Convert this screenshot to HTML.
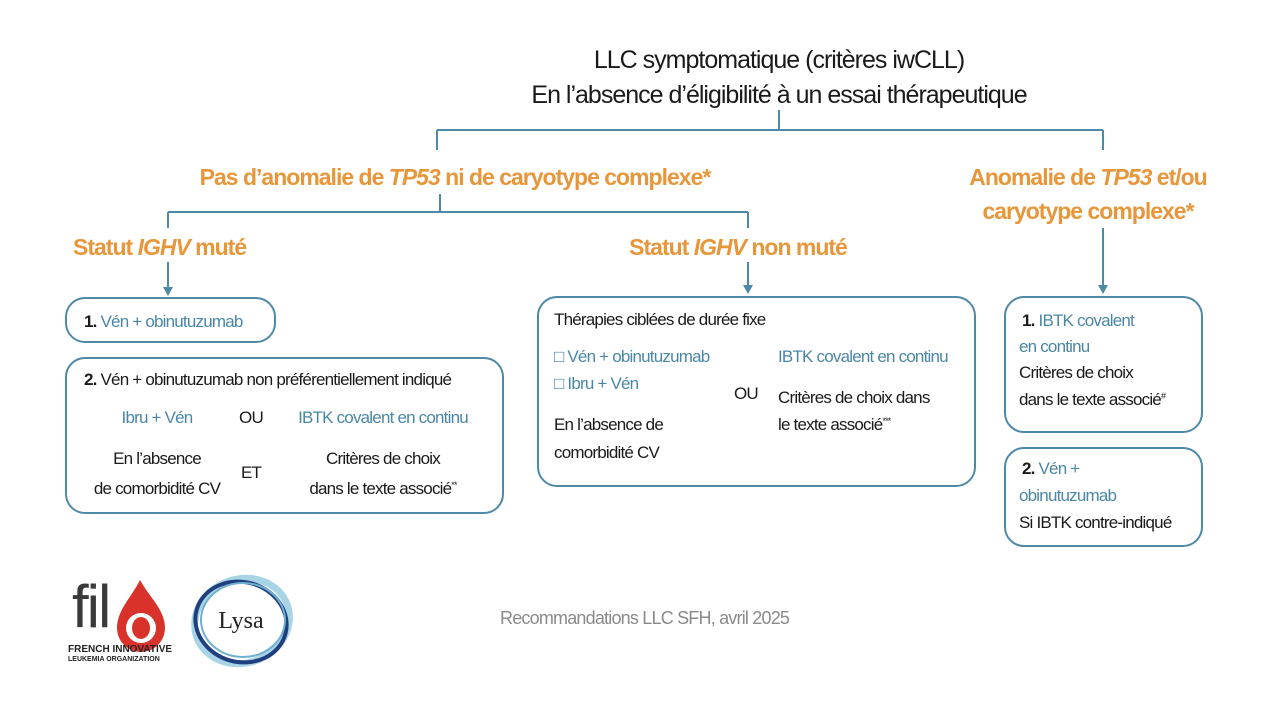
<!DOCTYPE html>
<html><head><meta charset="utf-8"><style>
body{margin:0;width:1280px;height:708px;background:#fff;position:relative;overflow:hidden;font-family:"Liberation Sans",sans-serif;}
.t{position:absolute;white-space:nowrap;font-size:17px;line-height:20px;letter-spacing:-0.8px;color:#1a1a1a;}
.c{transform:translateX(-50%);}
.b{color:#4a87a6;}
.o{color:#e8963a;font-weight:bold;font-size:23px;line-height:28px;letter-spacing:-1.0px;}
.s{position:relative;top:-6px;font-size:9px;line-height:0;}
.box{position:absolute;border:2.5px solid #4e89a8;border-radius:20px;box-sizing:border-box;}
</style></head><body>
<svg width="1280" height="708" style="position:absolute;left:0;top:0">
<g stroke="#4e89a8" stroke-width="2" fill="none">
<path d="M779 110V130M437 130H1103M437 130V150M1103 130V150"/>
<path d="M440 194V212M168 212H748M168 212V228M748 212V228"/>
<path d="M168 262V290M748 262V288M1103 228V288"/>
</g>
<g fill="#4e89a8">
<path d="M163 287L173 287L168 296Z"/><path d="M743 285L753 285L748 294Z"/><path d="M1098 285L1108 285L1103 294Z"/>
</g>
<ellipse cx="242" cy="621" rx="48" ry="42" fill="none" stroke="#a8d4e6" stroke-width="7" transform="rotate(-20 242 621)"/>
<ellipse cx="241" cy="622" rx="46" ry="40" fill="none" stroke="#1f3f7f" stroke-width="4" transform="rotate(15 241 622)"/>
<ellipse cx="243" cy="620" rx="42" ry="37" fill="none" stroke="#6fb0cf" stroke-width="2"/>
<path d="M140 580 C150 598 165 610 165 628 A24 24 0 0 1 117 628 C117 610 131 598 140 580Z" fill="#d8322b"/>
<circle cx="141" cy="628" r="15" fill="#fff"/>
<ellipse cx="141" cy="628" rx="9" ry="11" fill="#d8322b"/>
</svg>
<div class="t c" style="left:779px;top:45px;font-size:25px;line-height:30px;letter-spacing:-1px">LLC symptomatique (critères iwCLL)</div>
<div class="t c" style="left:779px;top:80px;font-size:25px;line-height:30px;letter-spacing:-1px">En l’absence d’éligibilité à un essai thérapeutique</div>
<div class="t o c" style="left:455px;top:163px">Pas d’anomalie de <i>TP53</i> ni de caryotype complexe*</div>
<div class="t o c" style="left:1088px;top:163px">Anomalie de <i>TP53</i> et/ou</div>
<div class="t o c" style="left:1088px;top:197px">caryotype complexe*</div>
<div class="t o" style="left:73px;top:233px">Statut <i>IGHV</i> muté</div>
<div class="t o c" style="left:738px;top:233px">Statut <i>IGHV</i> non muté</div>

<div class="box" style="left:65px;top:297px;width:211px;height:46px"></div>
<div class="box" style="left:65px;top:357px;width:439px;height:157px"></div>
<div class="box" style="left:537px;top:296px;width:439px;height:191px"></div>
<div class="box" style="left:1004px;top:296px;width:199px;height:137px"></div>
<div class="box" style="left:1004px;top:447px;width:199px;height:100px"></div>

<div class="t" style="left:84px;top:312px"><b>1.</b> <span class="b">Vén + obinutuzumab</span></div>
<div class="t" style="left:84px;top:370px"><b>2.</b> Vén + obinutuzumab non préférentiellement indiqué</div>
<div class="t b c" style="left:157px;top:408px">Ibru + Vén</div>
<div class="t c" style="left:251px;top:408px">OU</div>
<div class="t b c" style="left:383px;top:408px">IBTK covalent en continu</div>
<div class="t c" style="left:157px;top:449px">En l’absence</div>
<div class="t c" style="left:157px;top:479px">de comorbidité CV</div>
<div class="t c" style="left:251px;top:463px">ET</div>
<div class="t c" style="left:383px;top:449px">Critères de choix</div>
<div class="t c" style="left:383px;top:479px">dans le texte associé<span class="s">**</span></div>

<div class="t" style="left:554px;top:310px">Thérapies ciblées de durée fixe</div>
<div class="t b" style="left:554px;top:347px">□ Vén + obinutuzumab</div>
<div class="t b" style="left:554px;top:374px">□ Ibru + Vén</div>
<div class="t" style="left:734px;top:384px">OU</div>
<div class="t" style="left:554px;top:415px">En l’absence de</div>
<div class="t" style="left:554px;top:443px">comorbidité CV</div>
<div class="t b" style="left:778px;top:347px">IBTK covalent en continu</div>
<div class="t" style="left:778px;top:388px">Critères de choix dans</div>
<div class="t" style="left:778px;top:415px">le texte associé<span class="s">***</span></div>

<div class="t" style="left:1022px;top:311px"><b>1.</b> <span class="b">IBTK covalent</span></div>
<div class="t b" style="left:1019px;top:337px">en continu</div>
<div class="t" style="left:1019px;top:363px">Critères de choix</div>
<div class="t" style="left:1019px;top:390px">dans le texte associé<span class="s">#</span></div>
<div class="t" style="left:1022px;top:459px"><b>2.</b> <span class="b">Vén +</span></div>
<div class="t b" style="left:1019px;top:486px">obinutuzumab</div>
<div class="t" style="left:1019px;top:513px">Si IBTK contre-indiqué</div>

<div class="t" style="left:500px;top:607px;font-size:18px;line-height:22px;color:#8a8a8a">Recommandations LLC SFH, avril 2025</div>

<div class="t" style="left:72px;top:577px;font-size:60px;line-height:60px;letter-spacing:-2px;color:#3a3a3a">fil</div>
<div class="t" style="left:68px;top:644px;font-size:10px;line-height:11px;letter-spacing:0;font-weight:bold;color:#222">FRENCH INNOVATIVE</div>
<div class="t" style="left:68px;top:656px;font-size:7px;line-height:8px;letter-spacing:0;font-weight:bold;color:#222">LEUKEMIA ORGANIZATION</div>
<div class="t c" style="left:241px;top:607px;font-family:'Liberation Serif',serif;font-size:24px;line-height:28px;letter-spacing:0;color:#222">Lysa</div>
</body></html>
